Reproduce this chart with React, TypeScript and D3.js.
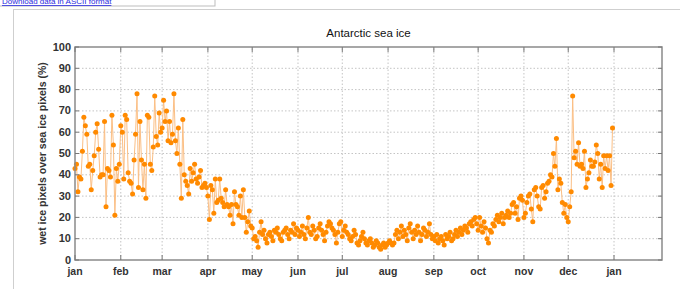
import React from "react";
import * as d3 from "d3";

// Daily values, one array per month (%)
const jan = [43,45,32,39,38,51,67,63,59,44,45,33,42,49,60,64,52,39,40,40,65,25,43,42,39,68,54,21,43,37,45];
const feb = [63,60,38,68,66,41,37,36,31,47,59,78,34,65,47,33,45,29,68,67,45,42,53,77,58,54,69,60];
const mar = [62,75,65,70,56,65,55,59,78,56,50,62,45,29,66,40,37,35,31,43,37,41,45,38,36,39,42,34,35,36,34];
const apr = [30,19,35,33,22,38,27,28,38,29,27,25,33,26,25,21,26,17,32,26,25,21,30,20,33,20,13,18,23,16];
const may = [15,10,11,9,6,13,18,12,14,10,8,12,13,11,9,14,13,15,12,10,9,13,14,15,12,10,14,13,17,12,15];
const jun = [14,11,13,16,12,10,15,20,13,12,16,14,10,11,15,17,14,12,9,13,16,18,17,15,14,12,8,13,17,18];
const jul = [11,14,16,13,12,10,9,11,14,12,8,7,9,11,13,10,8,7,9,10,8,6,7,9,8,6,5,7,8,6,7];
const aug = [8,9,8,7,8,12,14,10,13,16,11,14,12,9,15,17,13,10,14,12,16,13,9,12,15,14,11,13,17,12,10];
const sep = [11,9,12,8,10,11,9,7,12,10,11,13,9,10,12,14,11,13,15,12,14,16,15,13,17,18,16,19,20,17];
const oct = [14,20,16,13,18,15,10,8,14,13,17,16,19,21,18,20,22,17,20,21,23,20,22,26,27,22,25,19,29,30,28];
const nov = [20,22,27,30,31,24,18,33,34,30,25,24,34,35,29,32,36,37,40,39,50,44,57,33,38,36,27,22,26,20];
const dec = [18,25,32,77,48,51,45,55,44,45,43,51,34,38,41,47,44,44,46,54,50,38,45,34,49,43,49,42,49,35,62];

const monthLabels = ["jan","feb","mar","apr","may","jun","jul","aug","sep","oct","nov","dec","jan"];
const monthStarts = [0,31,59,90,120,151,181,212,243,273,304,334,365];
const yTicks = [0,10,20,30,40,50,60,70,80,90,100];

const values = [jan,feb,mar,apr,may,jun,jul,aug,sep,oct,nov,dec].flat();

export default function App() {
  const margin = { left: 75, right: 18, top: 47, bottom: 29 };
  const W = 680, H = 289;

  const x = d3.scaleLinear().domain([0, 397.5]).range([margin.left, W - margin.right]);
  const y = d3.scaleLinear().domain([0, 100]).range([H - margin.bottom, margin.top]);

  const line = d3.line<number>().x((d, i) => x(i)).y((d) => y(d));

  const x0 = x.range()[0], x1 = x.range()[1];
  const y0 = y.range()[0], y1 = y.range()[1];
  const font = "'Liberation Sans', Arial, sans-serif";
  const grid = "#c4c4c4";

  return (
    <svg width={W} height={H} style={{ position: "absolute", left: 0, top: 0, background: "#fff" }}>
      {/* page bits around the figure */}
      <rect x={-1} y={-10} width={216} height={16} fill="#fff" stroke="#bdbdbd" />
      <text x={2} y={4} fontSize={8} fill="#2a2ae0" fontFamily={font} textDecoration="underline">
        Download data in ASCII format
      </text>
      <rect x={13.5} y={9.5} width={700} height={300} fill="none" stroke="#cfcfcf" />

      <text x={(x0 + x1) / 2} y={37} textAnchor="middle" fontSize={11.5} fontFamily={font} fill="#111">
        Antarctic sea ice
      </text>

      {/* grid */}
      {yTicks.slice(1, -1).map((t) => (
        <line key={"gy" + t} x1={x0} x2={x1} y1={y(t)} y2={y(t)} stroke={grid} strokeDasharray="1.5,2" />
      ))}
      {monthStarts.slice(1).map((t) => (
        <line key={"gx" + t} x1={x(t)} x2={x(t)} y1={y0} y2={y1} stroke={grid} strokeDasharray="1.5,2" />
      ))}

      {/* data */}
      <path d={line(values) || ""} fill="none" stroke="#fbbf85" strokeWidth={1} />
      {values.map((v, i) => (
        <circle key={i} cx={x(i)} cy={y(v)} r={2.5} fill="#ff8a00" />
      ))}

      {/* frame and ticks */}
      <rect x={x0} y={y1} width={x1 - x0} height={y0 - y1} fill="none" stroke="#8a8a8a" strokeWidth={1.5} />
      {yTicks.map((t) => (
        <g key={"ty" + t}>
          <line x1={x0} x2={x0 + 4} y1={y(t)} y2={y(t)} stroke="#777" />
          <line x1={x1} x2={x1 - 4} y1={y(t)} y2={y(t)} stroke="#777" />
          <text x={x0 - 4} y={y(t) + 3.5} textAnchor="end" fontSize={11} fontWeight="bold" fontFamily={font} fill="#333">
            {t}
          </text>
        </g>
      ))}
      {monthStarts.map((t, i) => (
        <g key={"tx" + i}>
          <line x1={x(t)} x2={x(t)} y1={y0} y2={y0 - 5} stroke="#777" />
          <line x1={x(t)} x2={x(t)} y1={y1} y2={y1 + 5} stroke="#777" />
          <text x={x(t)} y={y0 + 15} textAnchor="middle" fontSize={10.5} fontWeight="bold" fontFamily={font} fill="#333">
            {monthLabels[i]}
          </text>
        </g>
      ))}

      <text
        transform={`translate(46,${(y0 + y1) / 2}) rotate(-90)`}
        textAnchor="middle"
        fontSize={10.5}
        fontWeight="bold"
        fontFamily={font}
        fill="#333"
      >
        wet ice pixels over sea ice pixels (%)
      </text>
    </svg>
  );
}
